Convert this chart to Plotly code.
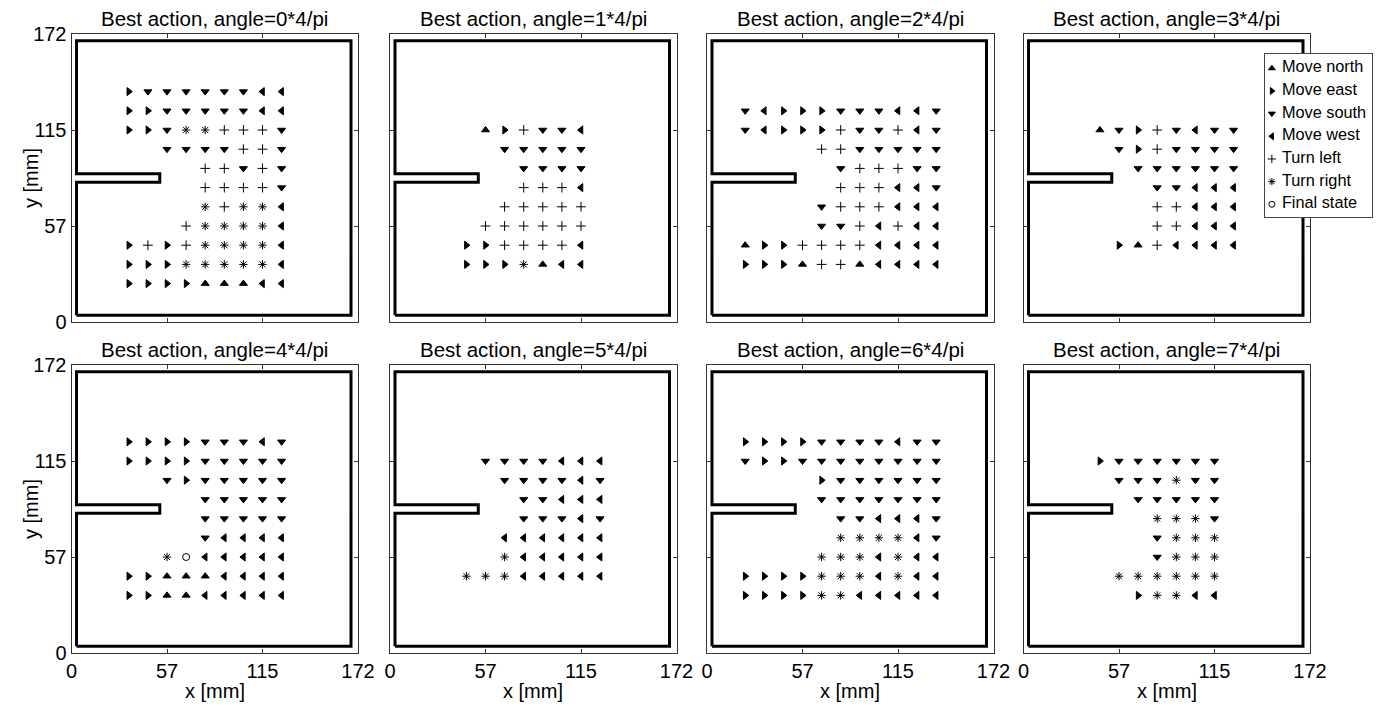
import plotly.graph_objects as go

# Workspace geometry (mm)
ARENA = 172
CELL = ARENA / 15                      # spacing of the state grid
TICK_VALS = [0, ARENA / 3, 2 * ARENA / 3, ARENA]
TICK_TEXT = ["0", "57", "115", "172"]

# Wall outline: outer box with the barrier sticking in from the left side
WALL_X = [3, 167.8, 167.8, 3, 3, 53, 53, 3, 3]
WALL_Y = [4, 4, 168, 168, 88.5, 88.5, 83.5, 83.5, 4]

# Grid indices of the policy strings: columns left->right, rows top->bottom
GRID_COLS = list(range(2, 13))
GRID_ROWS = list(range(12, 1, -1))

# Best action per grid cell for each heading
# N/E/S/W = move north/east/south/west, L/R = turn left/right, F = final state
POLICY_0 = [
    ".ESSSSSSWW.",
    ".EESSSSSWW.",
    ".EESRRLLLS.",
    "...SSSSLLS.",
    ".....LLSLS.",
    ".....LLLLS.",
    ".....RLRRW.",
    "....LRRRRW.",
    ".ELELRRRRW.",
    ".EEERRRRRW.",
    ".EEEENNNWW.",
]
POLICY_1 = [
    "...........",
    "...........",
    "...NELSSW..",
    "....SSSSS..",
    ".....SSSS..",
    ".....LLLW..",
    "....LLLLL..",
    "...LLLLLL..",
    "..EELLLLW..",
    "..EEERNWW..",
    "...........",
]
POLICY_2 = [
    "...........",
    "SWEEESSSWWS",
    "SWEEELSSLWS",
    "....LLSSSSS",
    ".....SLLLSS",
    ".....LLLWWS",
    "....SLLLWWW",
    "....SSLWLWW",
    "NEELLLLWWWW",
    "EEENLLNWWWW",
    "...........",
]
POLICY_3 = [
    "...........",
    "...........",
    "..NSELSWSS.",
    "...SELSSSS.",
    "....SSSSSS.",
    ".....SSWWW.",
    ".....LLWWW.",
    ".....LLWWW.",
    "...ENLWWWW.",
    "...........",
    "...........",
]
POLICY_4 = [
    "...........",
    ".EEEESSSWS.",
    ".EEEESSSSS.",
    "...SESSSSS.",
    ".....SSSSS.",
    ".....SSSSS.",
    ".....SWWWW.",
    "...RFWWWWW.",
    ".EENNNWWWW.",
    ".EENNWWWWW.",
    "...........",
]
POLICY_5 = [
    "...........",
    "...........",
    "...SSSSWWW.",
    "....SSSSWS.",
    ".....SSWWW.",
    ".....SSSWS.",
    "....WWWWWW.",
    "....RWWWWW.",
    "..RRRWWWWW.",
    "...........",
    "...........",
]
POLICY_6 = [
    "...........",
    "EEEESSSSWSS",
    "SEESSSSSSSS",
    "....ESSSSSS",
    "....SSSSSSS",
    ".....SSWWWS",
    ".....RRRRWS",
    "....RRRWRWW",
    "EEEERRRWRWW",
    "EEEERRWWWWW",
    "...........",
]
POLICY_7 = [
    "...........",
    "...........",
    "..ESSSSSS..",
    "...SSSRSS..",
    "....SSSSS..",
    ".....RRRS..",
    ".....SRRR..",
    ".....SRRR..",
    "...RRRRRR..",
    "....ERRWW..",
    "...........",
]
POLICIES = [POLICY_0, POLICY_1, POLICY_2, POLICY_3,
            POLICY_4, POLICY_5, POLICY_6, POLICY_7]
ANGLE_LABELS = ["Best action, angle=%d*4/pi" % k for k in range(8)]

ACTION_CODES = ["N", "E", "S", "W", "L", "R", "F"]
ACTION_NAMES = ["Move north", "Move east", "Move south", "Move west",
                "Turn left", "Turn right", "Final state"]
ACTION_SYMBOLS = ["triangle-up", "triangle-right", "triangle-down",
                  "triangle-left", "cross-thin-open", "asterisk-open",
                  "circle-open"]
ACTION_SIZES = [7, 7, 7, 7, 7, 7, 7]

# Page layout in pixels
W, H = 1388, 706
COL_LEFT = [71.5, 390, 707, 1023.5]
ROW_TOP = [34, 365]
PANEL_W, PANEL_H = 286.5, 288
LEGEND_BOX = (1265, 54, 1372, 217)     # left, top, right, bottom
FONT = "Liberation Sans, Arial, sans-serif"
TEXT_SIZE = 20


def marker_style(a):
    return dict(symbol=ACTION_SYMBOLS[a], size=ACTION_SIZES[a],
                color="black", line=dict(color="black", width=1))


fig = go.Figure()

for p, policy in enumerate(POLICIES):
    sfx = "" if p == 0 else str(p + 1)
    xref, yref = "x" + sfx, "y" + sfx

    fig.add_trace(go.Scatter(
        x=WALL_X, y=WALL_Y, mode="lines", xaxis=xref, yaxis=yref,
        line=dict(color="black", width=3), showlegend=False,
        hoverinfo="skip"))

    for a, code in enumerate(ACTION_CODES):
        xs, ys = [], []
        for r, row in enumerate(policy):
            for c, ch in enumerate(row):
                if ch == code:
                    xs.append(GRID_COLS[c] * CELL)
                    ys.append(GRID_ROWS[r] * CELL)
        if not xs:
            continue
        fig.add_trace(go.Scatter(
            x=xs, y=ys, mode="markers", xaxis=xref, yaxis=yref,
            name=ACTION_NAMES[a], showlegend=False,
            marker=marker_style(a)))

# Key box: one row per action, drawn in its own small inset axes
KEY_ROWS = list(range(len(ACTION_CODES)))
for a in KEY_ROWS:
    fig.add_trace(go.Scatter(
        x=[0], y=[a], mode="markers", xaxis="x9", yaxis="y9",
        marker=dict(marker_style(a), size=6), showlegend=False,
        hoverinfo="skip", cliponaxis=False))
fig.add_trace(go.Scatter(
    x=[1.1] * len(KEY_ROWS), y=KEY_ROWS, mode="text", xaxis="x9", yaxis="y9",
    text=ACTION_NAMES, textposition="middle right",
    textfont=dict(size=16.3, family=FONT, color="black"),
    showlegend=False, hoverinfo="skip", cliponaxis=False))

layout = dict(
    template="none",
    width=W, height=H, margin=dict(l=0, r=0, t=0, b=0, pad=0),
    paper_bgcolor="white", plot_bgcolor="white", showlegend=False,
    font=dict(family=FONT, size=TEXT_SIZE, color="black"),
)

annotations = []
for p in range(8):
    row, col = divmod(p, 4)
    sfx = "" if p == 0 else str(p + 1)
    x0 = COL_LEFT[col]
    y0 = ROW_TOP[row]
    common = dict(range=[0, ARENA], showgrid=False, zeroline=False,
                  showline=True, mirror="ticks", linecolor="#333",
                  linewidth=1, ticks="inside", ticklen=4, tickcolor="#333",
                  tickvals=TICK_VALS, ticktext=TICK_TEXT, fixedrange=True,
                  automargin=False, tickfont=dict(size=TEXT_SIZE))
    layout["xaxis" + sfx] = dict(
        common, domain=[x0 / W, (x0 + PANEL_W) / W],
        anchor="y" + sfx, showticklabels=(row == 1))
    layout["yaxis" + sfx] = dict(
        common, domain=[1 - (y0 + PANEL_H) / H, 1 - y0 / H],
        anchor="x" + sfx, showticklabels=(col == 0))
    annotations.append(dict(
        text=ANGLE_LABELS[p], xref="paper", yref="paper",
        x=(x0 + PANEL_W / 2) / W, y=1 - (y0 - 16) / H,
        xanchor="center", yanchor="middle", showarrow=False,
        font=dict(size=20.5)))
    if col == 0:
        annotations.append(dict(
            text="y [mm]", xref="paper", yref="paper", textangle=-90,
            x=31 / W, y=1 - (y0 + PANEL_H / 2) / H,
            xanchor="center", yanchor="middle", showarrow=False,
            font=dict(size=TEXT_SIZE)))
    if row == 1:
        annotations.append(dict(
            text="x [mm]", xref="paper", yref="paper",
            x=(x0 + PANEL_W / 2) / W, y=1 - 691 / H,
            xanchor="center", yanchor="middle", showarrow=False,
            font=dict(size=TEXT_SIZE)))

# Inset axes holding the key
lx0, ly0, lx1, ly1 = LEGEND_BOX
layout["xaxis9"] = dict(domain=[lx0 / W, lx1 / W], range=[-0.75, 10.95],
                        anchor="y9", showgrid=False, zeroline=False,
                        showticklabels=False, ticks="", showline=True,
                        mirror=True, linecolor="#444", linewidth=1,
                        fixedrange=True, automargin=False)
layout["yaxis9"] = dict(domain=[1 - ly1 / H, 1 - ly0 / H],
                        range=[6.56, -0.63], anchor="x9", showgrid=False,
                        zeroline=False, showticklabels=False, ticks="",
                        showline=True, mirror=True, linecolor="#444",
                        linewidth=1, fixedrange=True, automargin=False)

layout["annotations"] = annotations
fig.update_layout(**layout)
fig.write_html("out.html")
